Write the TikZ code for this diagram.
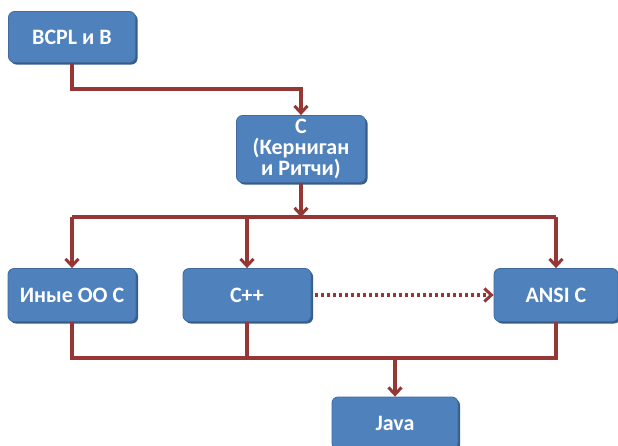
\documentclass[tikz,border=0pt]{standalone}
\usepackage{fontspec}
\setmainfont{Carlito}
\usetikzlibrary{arrows.meta,shadows,calc}
\definecolor{boxblue}{HTML}{4F81BD}
\definecolor{boxedge}{HTML}{3E6A9E}
\definecolor{boxshadow}{HTML}{385D8A}
\definecolor{linered}{HTML}{953735}
\begin{document}
\begin{tikzpicture}[x=1pt,y=-1pt,
  blk/.style={draw=boxedge, line width=0.8pt, fill=boxblue, rounded corners=6pt,
    text=white, font=\fontsize{22}{21}\selectfont\bfseries, align=center,
    inner sep=0pt,
    drop shadow={shadow xshift=2pt, shadow yshift=-2pt, fill=boxshadow, opacity=1}},
  conn/.style={draw=linered, line width=3.2pt},
  arr/.style={conn, -{Straight Barb[length=7pt,width=13pt,line width=3pt]}},
  dotarr/.style={draw=linered, line width=3.2pt, dash pattern=on 3pt off 3pt,
    -{Straight Barb[length=7pt,width=13pt,line width=3pt]}}
]
\useasboundingbox (0,0) rectangle (618,445);
\node[blk, minimum width=127pt, minimum height=51pt] (bcpl) at (72,37) {BCPL и B};
\node[blk, minimum width=129pt, minimum height=67pt] (c) at (301,149) {C\\(Керниган\\и Ритчи)};
\node[blk, minimum width=128pt, minimum height=53pt] (other) at (72,295) {Иные ОО С};
\node[blk, minimum width=128pt, minimum height=53pt] (cpp) at (247,295) {C++};
\node[blk, minimum width=124pt, minimum height=53pt] (ansi) at (556,295) {ANSI C};
\node[blk, minimum width=126pt, minimum height=52pt] (java) at (395,423) {Java};

\coordinate (bus1) at (0,217);
\coordinate (bus2) at (0,358);

\draw[arr] (bcpl.south) -- ++(0,26) -| (c.north);
\draw[arr] (c.south) -- (c.south |- bus1);
\draw[conn] (other.north |- bus1) -- (ansi.north |- bus1);
\draw[arr] (other.north |- bus1) -- (other.north);
\draw[arr] (cpp.north |- bus1) -- (cpp.north);
\draw[arr] (ansi.north |- bus1) -- (ansi.north);
\draw[dotarr] ([xshift=4pt]cpp.east) -- (ansi.west);
\draw[conn] (other.south) -- (other.south |- bus2) -- (ansi.south |- bus2) -- (ansi.south);
\draw[conn] (cpp.south) -- (cpp.south |- bus2);
\draw[arr] (java.north |- bus2) -- (java.north);
\end{tikzpicture}
\end{document}
